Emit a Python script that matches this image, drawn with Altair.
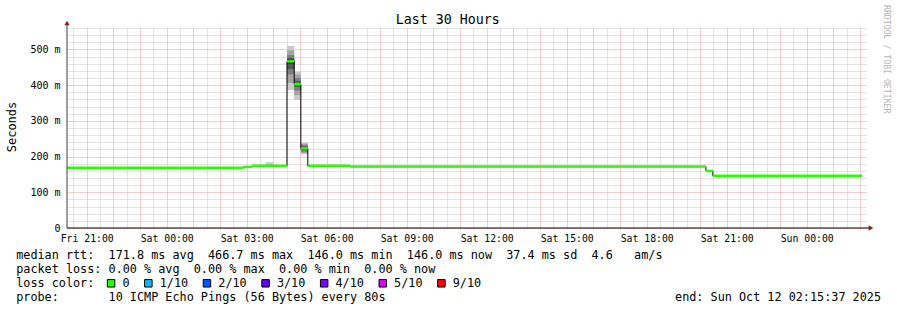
import altair as alt
import pandas as pd

# ---------------- data (hours since Fri 00:00, values in ms) ----------------
seg_start = [20.26, 26.86, 27.20, 28.51, 28.78, 29.03, 29.29, 30.87, 44.22, 44.48]
seg_end = [26.86, 27.20, 28.51, 28.78, 29.03, 29.29, 30.87, 44.22, 44.48, 50.07]
seg_median = [169.0, 171.0, 174.0, 466.7, 403.0, 223.0, 174.0, 172.0, 160.0, 146.0]

smoke_start = [27.45, 27.72, 28.51, 28.78, 29.03]
smoke_end = [27.72, 27.98, 28.78, 29.03, 29.29]
smoke_pings = [
    [173, 173, 173, 174, 174, 174, 174, 175, 175, 177],
    [173, 173, 174, 174, 174, 174, 175, 176, 178, 184],
    [386, 406, 430, 445, 460, 472, 476, 484, 498, 510],
    [358, 372, 385, 395, 400, 406, 412, 420, 430, 438],
    [206, 210, 214, 218, 221, 225, 228, 232, 236, 239],
]
smoke_shades = ["#cacaca", "#a4a4a4", "#7e7e7e", "#585858", "#323232"]

x_domain = [20.2603, 50.2603]
y_domain = [0, 560]

title_text = "Last 30 Hours"
y_title = "Seconds"
legend_lines = [
    "median rtt:  171.8 ms avg  466.7 ms max  146.0 ms min  146.0 ms now  37.4 ms sd  4.6   am/s",
    "packet loss: 0.00 % avg  0.00 % max  0.00 % min  0.00 % now",
    "loss color:",
    "probe:       10 ICMP Echo Pings (56 Bytes) every 80s",
]
loss_labels = ["0", "1/10", "2/10", "3/10", "4/10", "5/10", "9/10"]
loss_colors = ["#26ff00", "#00b8ff", "#0059ff", "#5e00ff", "#7e00ff", "#dd00ff", "#ff0000"]
end_text = "end: Sun Oct 12 02:15:37 2025"
watermark = "RRDTOOL / TOBI OETIKER"

# ---------------- layout ----------------
W, H = 800, 200
X0, Y0 = 67, 28
FONT = "DejaVu Sans Mono"
LFS = 11.8
CW = LFS * 0.602
NB = "\u00a0"

seg_df = pd.DataFrame({"start": seg_start, "end": seg_end, "median": seg_median})
step_df = pd.DataFrame({
    "t": seg_start + [seg_end[-1]],
    "median": seg_median + [seg_median[-1]],
})
rows = []
for s, e, p in zip(smoke_start, smoke_end, smoke_pings):
    p = sorted(p)
    for k, shade in enumerate(smoke_shades):
        rows.append({"s": s, "e": e, "lo": p[k], "hi": p[9 - k], "shade": shade, "k": k})
smoke_df = pd.DataFrame(rows)
one = pd.DataFrame({"k": [0]})

x_scale = alt.Scale(domain=x_domain, nice=False, zero=False)
y_scale = alt.Scale(domain=y_domain, nice=False, zero=False)

grid_x_vals = [20.5 + 0.5 * i for i in range(60)]
grid_y_vals = list(range(0, 561, 20))

RED = "#e89a9a"
GREY = "#c8c8c8"

x_axis = alt.Axis(
    values=grid_x_vals,
    grid=True,
    gridColor={"condition": {"test": "datum.value % 1 == 0", "value": RED}, "value": GREY},
    gridDash=[1, 1],
    gridWidth=1,
    ticks=False,
    tickSize=0,
    domain=False,
    labelExpr=(
        "datum.value % 3 == 0 ? (['Fri','Sat','Sun'][floor(datum.value/24)] + ' ' + "
        "(datum.value % 24 < 10 ? '0' : '') + (datum.value % 24) + ':00') : ''"
    ),
    labelFont=FONT,
    labelFontSize=9.8,
    labelColor="#000000",
    labelPadding=13.5,
    labelBaseline="alphabetic",
    labelAngle=0,
    labelOverlap=False,
    labelFlush=False,
    title=None,
)
y_axis = alt.Axis(
    values=grid_y_vals,
    grid=True,
    gridColor={"condition": {"test": "datum.value % 100 == 0", "value": RED}, "value": GREY},
    gridDash=[1, 1],
    gridWidth=1,
    ticks=False,
    tickSize=0,
    domain=False,
    labelExpr=(
        "datum.value % 100 == 0 && datum.value <= 500 ? "
        "(datum.value == 0 ? '0\u00a0\u00a0' : datum.value + ' m') : ''"
    ),
    labelFont=FONT,
    labelFontSize=10,
    labelColor="#000000",
    labelPadding=7,
    labelOverlap=False,
    labelFlush=False,
    title=y_title,
    titleFont=FONT,
    titleFontSize=12,
    titleFontWeight="normal",
    titleColor="#000000",
    titleX=-55.5,
    titleY=98.5,
    titleAngle=270,
    titleAlign="center",
    titleBaseline="middle",
)

smoke = alt.Chart(smoke_df).mark_rect(strokeWidth=0).encode(
    x=alt.X("s:Q", scale=x_scale, axis=x_axis),
    x2="e:Q",
    y=alt.Y("lo:Q", scale=y_scale, axis=y_axis),
    y2="hi:Q",
    color=alt.Color("shade:N", scale=None),
    order=alt.Order("k:Q"),
)

step = alt.Chart(step_df).mark_line(interpolate="step-after", color="#000000", strokeWidth=1).encode(
    x=alt.X("t:Q", scale=x_scale, axis=x_axis),
    y=alt.Y("median:Q", scale=y_scale, axis=y_axis),
)

green = alt.Chart(seg_df).mark_rule(color="#26ff00", strokeWidth=2.5).encode(
    x=alt.X("start:Q", scale=x_scale, axis=x_axis),
    x2="end:Q",
    y=alt.Y("median:Q", scale=y_scale, axis=y_axis),
)

layers = [smoke, step, green]

# axis lines and arrows
layers.append(alt.Chart(one).mark_rule(color="#404040", strokeWidth=1).encode(
    x=alt.value(0), y=alt.value(-3), y2=alt.value(H)))
layers.append(alt.Chart(one).mark_rule(color="#000000", strokeWidth=1).encode(
    x=alt.value(0), x2=alt.value(W + 2), y=alt.value(H)))
layers.append(alt.Chart(one).mark_point(shape="triangle-up", filled=True, color="#8b1c1c",
                                        size=28, opacity=1).encode(
    x=alt.value(0), y=alt.value(-5)))
layers.append(alt.Chart(one).mark_point(shape="triangle-right", filled=True, color="#8b1c1c",
                                        size=28, opacity=1).encode(
    x=alt.value(W + 4), y=alt.value(H)))

# title
layers.append(alt.Chart(one).mark_text(font=FONT, fontSize=13.3, align="center",
                                       baseline="alphabetic", color="#000000").encode(
    x=alt.value(447.8 - X0), y=alt.value(24.2 - Y0), text=alt.value(title_text)))

# watermark
layers.append(alt.Chart(one).mark_text(font=FONT, fontSize=8.2, align="left", baseline="middle",
                                       angle=90, color="#b4b4b4").encode(
    x=alt.value(886 - X0), y=alt.value(5 - Y0), text=alt.value(watermark.replace(" ", NB))))

# legend text lines
TX = 16.2
baselines = [258.5, 272.5, 286.6, 300.6]
for line, by in zip(legend_lines, baselines):
    layers.append(alt.Chart(one).mark_text(font=FONT, fontSize=LFS, align="left",
                                           baseline="alphabetic", color="#000000").encode(
        x=alt.value(TX - X0), y=alt.value(by - Y0), text=alt.value(line.replace(" ", NB))))

# loss color boxes
col = 12.75
for lab, colr in zip(loss_labels, loss_colors):
    box_cx = TX + col * CW + 4.3
    lab_col = col + 2.2
    layers.append(alt.Chart(one).mark_square(size=56, fill=colr, stroke="#000000",
                                             strokeWidth=1, opacity=1).encode(
        x=alt.value(box_cx - X0), y=alt.value(283.3 - Y0)))
    layers.append(alt.Chart(one).mark_text(font=FONT, fontSize=LFS, align="left",
                                           baseline="alphabetic", color="#000000").encode(
        x=alt.value(TX + lab_col * CW - X0), y=alt.value(baselines[2] - Y0), text=alt.value(lab)))
    col = lab_col + len(lab) + 2.05

# end text
layers.append(alt.Chart(one).mark_text(font=FONT, fontSize=LFS, align="right",
                                       baseline="alphabetic", color="#000000").encode(
    x=alt.value(881 - X0), y=alt.value(baselines[3] - Y0), text=alt.value(end_text.replace(" ", NB))))

chart = alt.layer(*layers).properties(
    width=W,
    height=H,
    padding={"left": X0, "top": Y0, "right": 897 - X0 - W, "bottom": 310 - Y0 - H},
    autosize=alt.AutoSizeParams(type="none"),
    background="white",
).configure_view(strokeWidth=0)

chart.save("out.html", embed_options={"renderer": "svg", "actions": False})
